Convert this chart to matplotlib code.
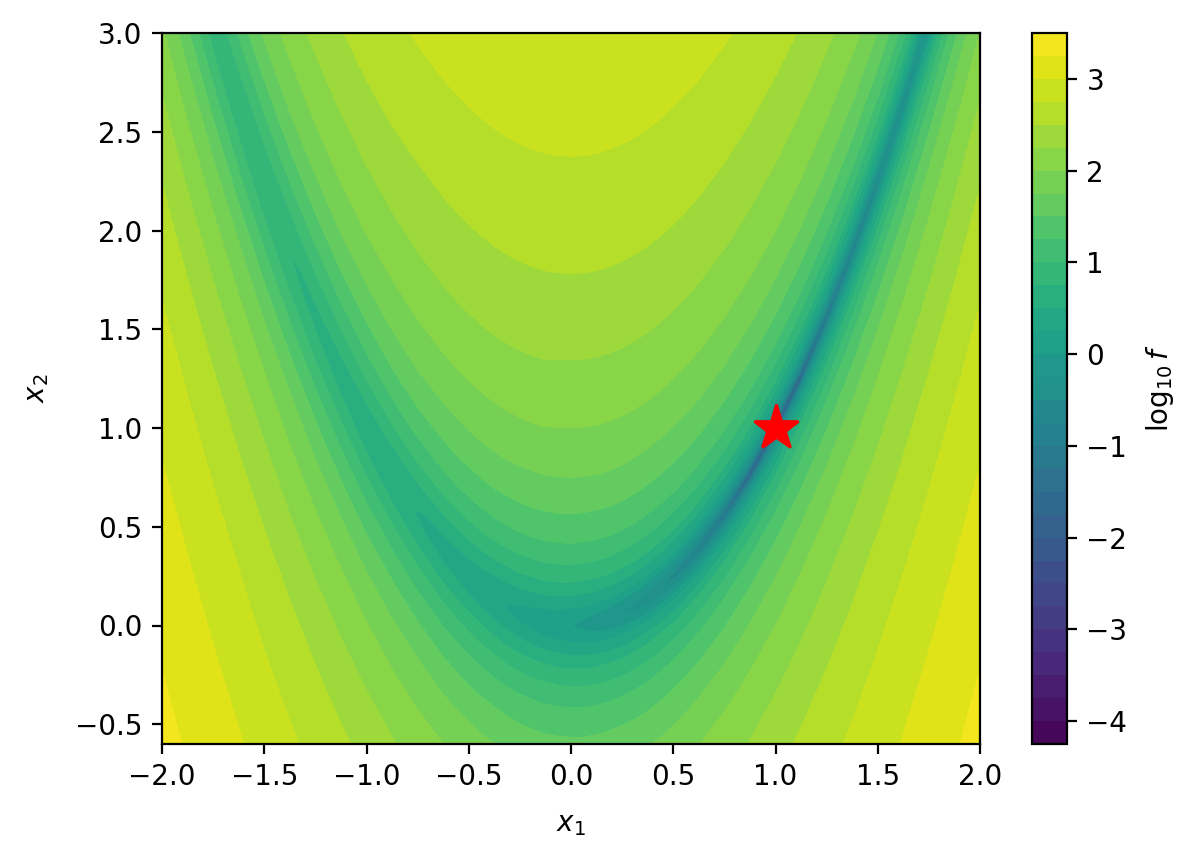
import numpy as np
import matplotlib
matplotlib.use('Agg')
import matplotlib.pyplot as plt

# sample columns along x1 (closer together near the flat bottom of the valley)
x1 = [-2, -1.875, -1.75, -1.625, -1.5, -1.375, -1.25, -1.125, -1, -0.875, -0.75, -0.625,
      -0.5625, -0.5, -0.4375, -0.375, -0.3125, -0.25, -0.1875, -0.125, -0.0625, 0,
      0.0625, 0.125, 0.1875, 0.25, 0.3125, 0.375, 0.4375, 0.5, 0.5625, 0.625,
      0.75, 0.875, 1, 1.125, 1.25, 1.375, 1.5, 1.625, 1.75, 1.875, 2]

# rows follow the curved valley seen in the picture, offset above / below it
valley_offset = [0, 0.05, 0.12, 0.25, 0.45, 0.7, 1, 1.4, 1.8, 2.4, 3, 3.8, 4.6]

col_m2000 = [0.95,0.97,1.02,1.18,1.47,1.76,2.04,2.31,2.52,2.77,2.96,3.16,3.33]
col_m1875 = [0.92,0.93,0.99,1.16,1.46,1.76,2.03,2.31,2.52,2.77,2.96,3.16,3.33]
col_m1750 = [0.88,0.89,0.95,1.14,1.44,1.75,2.03,2.31,2.52,2.77,2.96,3.16,3.33]
col_m1625 = [0.84,0.85,0.92,1.12,1.43,1.75,2.03,2.31,2.52,2.77,2.96,3.16,3.33]
col_m1500 = [0.80,0.81,0.89,1.10,1.42,1.74,2.03,2.31,2.52,2.76,2.96,3.16,3.33]
col_m1375 = [0.75,0.77,0.85,1.08,1.41,1.74,2.02,2.30,2.52,2.76,2.96,3.16,3.33]
col_m1250 = [0.70,0.73,0.81,1.05,1.40,1.73,2.02,2.30,2.52,2.76,2.96,3.16,3.33]
col_m1125 = [0.66,0.68,0.78,1.03,1.39,1.73,2.02,2.30,2.52,2.76,2.96,3.16,3.33]
col_m1000 = [0.60,0.63,0.74,1.01,1.38,1.72,2.02,2.30,2.52,2.76,2.96,3.16,3.33]
col_m0875 = [0.55,0.58,0.70,0.99,1.38,1.72,2.01,2.30,2.52,2.76,2.96,3.16,3.33]
col_m0750 = [0.49,0.52,0.65,0.97,1.37,1.72,2.01,2.30,2.51,2.76,2.96,3.16,3.33]
col_m0625 = [0.42,0.46,0.61,0.95,1.36,1.71,2.01,2.30,2.51,2.76,2.96,3.16,3.33]
col_m0562 = [0.39,0.43,0.59,0.94,1.36,1.71,2.01,2.30,2.51,2.76,2.96,3.16,3.33]
col_m0500 = [0.35,0.40,0.57,0.93,1.35,1.71,2.01,2.30,2.51,2.76,2.96,3.16,3.33]
col_m0438 = [0.32,0.37,0.55,0.92,1.35,1.71,2.01,2.30,2.51,2.76,2.96,3.16,3.33]
col_m0375 = [0.28,0.33,0.52,0.91,1.35,1.71,2.01,2.30,2.51,2.76,2.96,3.16,3.33]
col_m0312 = [0.24,0.29,0.50,0.90,1.34,1.71,2.01,2.30,2.51,2.76,2.96,3.16,3.33]
col_m0250 = [0.19,0.26,0.48,0.89,1.34,1.70,2.01,2.30,2.51,2.76,2.96,3.16,3.33]
col_m0188 = [0.15,0.22,0.45,0.88,1.34,1.70,2.01,2.30,2.51,2.76,2.96,3.16,3.33]
col_m0125 = [0.10,0.18,0.43,0.88,1.33,1.70,2.01,2.30,2.51,2.76,2.96,3.16,3.33]
col_m0062 = [0.05,0.14,0.41,0.87,1.33,1.70,2.00,2.29,2.51,2.76,2.95,3.16,3.33]
col_0000 = [0.00,0.10,0.39,0.86,1.33,1.70,2.00,2.29,2.51,2.76,2.95,3.16,3.33]
col_p0062 = [-0.06,0.05,0.37,0.85,1.32,1.70,2.00,2.29,2.51,2.76,2.95,3.16,3.33]
col_p0125 = [-0.11,0.01,0.34,0.85,1.32,1.70,2.00,2.29,2.51,2.76,2.95,3.16,3.33]
col_p0188 = [-0.18,-0.04,0.32,0.84,1.32,1.70,2.00,2.29,2.51,2.76,2.95,3.16,3.33]
col_p0250 = [-0.25,-0.09,0.30,0.83,1.32,1.70,2.00,2.29,2.51,2.76,2.95,3.16,3.33]
col_p0312 = [-0.33,-0.14,0.28,0.83,1.32,1.69,2.00,2.29,2.51,2.76,2.95,3.16,3.33]
col_p0375 = [-0.41,-0.19,0.26,0.82,1.31,1.69,2.00,2.29,2.51,2.76,2.95,3.16,3.33]
col_p0438 = [-0.49,-0.24,0.25,0.82,1.31,1.69,2.00,2.29,2.51,2.76,2.95,3.16,3.33]
col_p0500 = [-0.60,-0.30,0.23,0.81,1.31,1.69,2.00,2.29,2.51,2.76,2.95,3.16,3.33]
col_p0562 = [-0.72,-0.36,0.21,0.81,1.31,1.69,2.00,2.29,2.51,2.76,2.95,3.16,3.33]
col_p0625 = [-0.85,-0.41,0.20,0.81,1.31,1.69,2.00,2.29,2.51,2.76,2.95,3.16,3.33]
col_p0750 = [-1.22,-0.51,0.18,0.80,1.31,1.69,2.00,2.29,2.51,2.76,2.95,3.16,3.33]
col_p0875 = [-1.80,-0.58,0.16,0.80,1.31,1.69,2.00,2.29,2.51,2.76,2.95,3.16,3.33]
col_p1000 = [-2.00,-0.60,0.16,0.80,1.31,1.69,2.00,2.29,2.51,2.76,2.95,3.16,3.33]
col_p1125 = [-1.80,-0.58,0.16,0.80,1.31,1.69,2.00,2.29,2.51,2.76,2.95,3.16,3.33]
col_p1250 = [-1.22,-0.51,0.18,0.80,1.31,1.69,2.00,2.29,2.51,2.76,2.95,3.16,3.33]
col_p1375 = [-0.85,-0.41,0.20,0.81,1.31,1.69,2.00,2.29,2.51,2.76,2.95,3.16,3.33]
col_p1500 = [-0.60,-0.30,0.23,0.81,1.31,1.69,2.00,2.29,2.51,2.76,2.95,3.16,3.33]
col_p1625 = [-0.41,-0.19,0.26,0.82,1.31,1.69,2.00,2.29,2.51,2.76,2.95,3.16,3.33]
col_p1750 = [-0.25,-0.09,0.30,0.83,1.32,1.70,2.00,2.29,2.51,2.76,2.95,3.16,3.33]
col_p1875 = [-0.11,0.01,0.34,0.85,1.32,1.70,2.00,2.29,2.51,2.76,2.95,3.16,3.33]
col_p2000 = [0.00,0.10,0.39,0.86,1.33,1.70,2.00,2.29,2.51,2.76,2.95,3.16,3.33]

columns = [col_m2000, col_m1875, col_m1750, col_m1625, col_m1500, col_m1375, col_m1250, col_m1125,
           col_m1000, col_m0875, col_m0750, col_m0625, col_m0562, col_m0500, col_m0438, col_m0375,
           col_m0312, col_m0250, col_m0188, col_m0125, col_m0062, col_0000,
           col_p0062, col_p0125, col_p0188, col_p0250, col_p0312, col_p0375, col_p0438, col_p0500,
           col_p0562, col_p0625, col_p0750, col_p0875, col_p1000, col_p1125, col_p1250, col_p1375,
           col_p1500, col_p1625, col_p1750, col_p1875, col_p2000]

levels = np.arange(-4.25, 3.51, 0.25)
star_x = [1.0]
star_y = [1.0]

# same table below the valley and above it (above only reaches offset 3)
table = np.array(columns).T
offsets = np.array(valley_offset)
z = np.vstack([table[:0:-1], table[:11]])
d = np.concatenate([-offsets[:0:-1], offsets[:11]])

X = np.tile(np.array(x1), (len(d), 1))
Y = X**2 + d[:, None]

fig = plt.figure(figsize=(6, 4.305), dpi=200)
ax = fig.add_axes([162/1200, 1 - 744/861, 818/1200, 711/861])
cax = fig.add_axes([1032/1200, 1 - 744/861, 35/1200, 711/861])

cs = ax.contourf(X, Y, z, levels=levels, cmap='viridis')
ax.plot(star_x, star_y, marker='*', color='red', markersize=17)
ax.set_xlim(-2, 2)
ax.set_ylim(-0.6, 3)
ax.set_xlabel('$x_1$', labelpad=6.5)
ax.set_ylabel('$x_2$', labelpad=8.7)

cbar = fig.colorbar(cs, cax=cax)
cbar.set_label(r'$\log_{10} f$', labelpad=6)
cbar.set_ticks([-4, -3, -2, -1, 0, 1, 2, 3])

fig.savefig('out.png', dpi=200)
